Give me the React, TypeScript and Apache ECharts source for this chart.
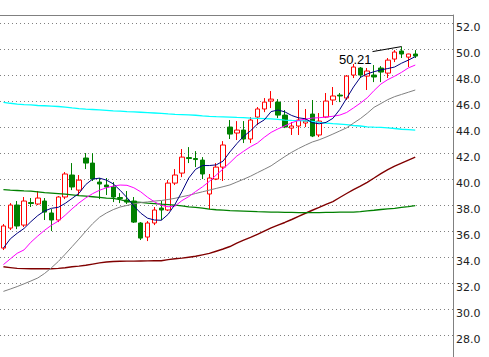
import React, { useEffect, useRef } from "react";
import * as echarts from "echarts";

const SLOT_COUNT = 66;
const categories: string[] = Array.from({ length: SLOT_COUNT }, (_, i) => String(i + 1));

const OPEN = [
  34.71, 36.25, 38.02, 36.48, 38.21, 38.10, 38.33, 37.41, 36.87, 38.64,
  40.33, 39.17, 41.64, 41.25, 39.79, 39.56, 39.41, 38.60, 38.41, 38.33,
  36.64, 35.56, 36.64, 37.79, 37.64, 39.71, 40.48, 41.67, 41.60, 41.48,
  38.87, 40.02, 40.94, 44.02, 43.56, 43.79, 43.10, 44.79, 45.41, 46.02,
  45.94, 44.94, 43.94, 44.10, 44.33, 45.02, 43.41, 44.79, 46.10, 46.48,
  46.25, 48.02, 48.56, 47.94, 48.02, 48.56, 48.17, 49.25, 49.87, 49.40, 49.64,
];
const CLOSE = [
  36.41, 38.02, 36.41, 38.33, 38.14, 38.56, 37.48, 36.87, 38.64, 40.41,
  39.41, 39.94, 41.25, 40.02, 39.64, 39.41, 38.64, 38.52, 38.25, 36.71,
  35.48, 36.64, 37.64, 37.64, 39.71, 40.33, 41.71, 41.60, 41.52, 40.41,
  40.10, 40.94, 42.64, 43.48, 43.79, 43.10, 44.56, 45.41, 45.94, 46.17,
  44.94, 44.02, 44.10, 44.56, 44.48, 43.33, 44.48, 46.02, 46.41, 46.41,
  47.94, 48.64, 48.02, 48.33, 47.87, 48.25, 49.17, 49.79, 49.64, 49.64, 49.48,
];
const LOW = [
  34.56, 36.10, 36.17, 36.33, 37.87, 38.02, 36.87, 36.02, 36.71, 38.48,
  39.17, 38.79, 40.79, 39.87, 38.48, 38.79, 38.25, 38.17, 38.10, 36.64,
  35.33, 35.25, 36.48, 36.87, 37.56, 39.56, 40.17, 41.25, 40.94, 40.02,
  37.71, 39.94, 39.87, 43.10, 43.02, 42.79, 42.79, 44.17, 45.17, 45.48,
  44.71, 43.94, 43.41, 43.41, 44.02, 43.25, 43.25, 44.71, 45.71, 45.94,
  46.10, 47.79, 47.79, 46.87, 47.48, 47.48, 47.79, 49.02, 49.33, 48.64, 49.33,
];
const HIGH = [
  36.56, 38.17, 38.33, 38.64, 38.56, 39.10, 38.56, 37.71, 38.71, 40.56,
  41.25, 40.33, 42.02, 42.02, 40.10, 40.10, 39.79, 38.94, 39.10, 38.64,
  36.71, 36.79, 37.87, 38.33, 39.94, 40.79, 42.33, 42.48, 42.17, 41.71,
  40.41, 41.25, 42.94, 44.56, 44.48, 44.48, 44.79, 45.56, 46.25, 46.79,
  46.17, 45.33, 44.41, 46.10, 45.41, 46.10, 45.10, 46.64, 47.10, 46.64,
  48.02, 48.87, 48.64, 48.56, 48.79, 48.71, 49.33, 49.94, 50.21, 49.66, 49.94,
];

const MA_NAVY = [
  34.71, 35.42, 35.85, 36.22, 36.74, 37.21, 37.57, 37.77, 37.85, 38.15,
  38.53, 38.92, 39.60, 40.02, 40.09, 39.94, 39.65, 39.16, 38.59, 37.95,
  37.40, 37.01, 36.87, 36.85, 37.31, 38.08, 39.04, 40.10, 40.77, 41.06,
  41.06, 41.11, 41.40, 42.11, 42.74, 43.31, 43.73, 44.25, 44.57, 45.21,
  45.33, 45.19, 44.91, 44.73, 44.66, 44.36, 44.27, 44.38, 44.69, 45.37,
  46.23, 47.10, 47.84, 48.11, 48.28, 48.42, 48.52, 48.64, 48.93, 49.17, 49.44,
];
const MA_MAGENTA = [
  33.44, 33.88, 34.31, 34.57, 35.16, 35.64, 36.08, 36.47, 36.79, 37.24,
  37.73, 38.18, 38.57, 38.90, 39.16, 39.35, 39.48, 39.56, 39.54, 39.35,
  39.04, 38.62, 38.27, 38.00, 37.89, 37.94, 38.36, 38.67, 39.06, 39.42,
  39.84, 40.33, 40.80, 41.28, 41.79, 42.16, 42.51, 42.79, 43.23, 43.61,
  43.88, 44.11, 44.35, 44.54, 44.63, 44.71, 44.74, 44.79, 44.85, 44.94,
  45.14, 45.49, 45.86, 46.27, 46.83, 47.33, 47.67, 47.93, 48.23, 48.57, 48.79,
];
const MA_GRAY = [
  31.38, 31.56, 31.75, 31.96, 32.18, 32.41, 32.76, 33.20, 33.68, 34.24,
  34.82, 35.40, 36.01, 36.59, 37.08, 37.41, 37.67, 37.87, 37.99, 38.11,
  38.21, 38.26, 38.33, 38.37, 38.45, 38.54, 38.66, 38.77, 38.91, 39.04,
  39.17, 39.30, 39.43, 39.57, 39.79, 40.01, 40.24, 40.51, 40.77, 41.04,
  41.40, 41.75, 42.08, 42.37, 42.63, 42.87, 43.04, 43.25, 43.48, 43.72,
  43.96, 44.32, 44.67, 45.08, 45.54, 45.83, 46.13, 46.36, 46.53, 46.70, 46.87,
];
const MA_GREEN = [
  39.21, 39.17, 39.14, 39.11, 39.09, 39.04, 38.97, 38.94, 38.90, 38.86,
  38.81, 38.74, 38.70, 38.66, 38.61, 38.56, 38.53, 38.44, 38.31, 38.26,
  38.22, 38.17, 38.13, 38.09, 38.06, 38.02, 37.96, 37.88, 37.84, 37.78,
  37.70, 37.66, 37.63, 37.59, 37.57, 37.55, 37.53, 37.51, 37.50, 37.48,
  37.47, 37.46, 37.45, 37.44, 37.44, 37.44, 37.44, 37.45, 37.46, 37.47,
  37.47, 37.48, 37.52, 37.57, 37.62, 37.68, 37.73, 37.77, 37.84, 37.90, 37.97,
];
const MA_DARKRED = [
  33.27, 33.21, 33.15, 33.13, 33.12, 33.12, 33.12, 33.12, 33.15, 33.20,
  33.27, 33.32, 33.39, 33.48, 33.57, 33.64, 33.68, 33.70, 33.71, 33.71,
  33.72, 33.73, 33.74, 33.74, 33.82, 33.89, 33.94, 34.01, 34.08, 34.19,
  34.30, 34.47, 34.64, 34.83, 35.09, 35.32, 35.54, 35.77, 36.02, 36.27,
  36.48, 36.68, 36.91, 37.15, 37.39, 37.62, 37.84, 38.07, 38.29, 38.60,
  38.91, 39.21, 39.48, 39.77, 40.10, 40.44, 40.75, 41.02, 41.25, 41.48, 41.71,
];
const MA_CYAN = [
  45.92, 45.85, 45.79, 45.74, 45.72, 45.68, 45.66, 45.63, 45.60, 45.55,
  45.49, 45.44, 45.40, 45.37, 45.34, 45.31, 45.27, 45.24, 45.21, 45.19,
  45.16, 45.13, 45.10, 45.07, 45.03, 45.00, 44.98, 44.96, 44.93, 44.88,
  44.84, 44.82, 44.81, 44.79, 44.76, 44.74, 44.71, 44.69, 44.67, 44.65,
  44.61, 44.56, 44.53, 44.51, 44.49, 44.46, 44.38, 44.33, 44.28, 44.24,
  44.20, 44.14, 44.10, 44.04, 44.01, 43.99, 43.96, 43.91, 43.85, 43.82, 43.79,
];

const Y_MIN = 26;
const Y_MAX = 52.64;
const Y_STEP = 2;
const HIGH_INDEX = 58;
const HIGH_LABEL = "50.21";

export default function App() {
  const ref = useRef<HTMLDivElement>(null);

  useEffect(() => {
    document.body.style.margin = "0";
    document.body.style.overflow = "hidden";
    const chart = echarts.init(ref.current!, null, { renderer: "svg" });

    const candleData = OPEN.map((o, i) => [o, CLOSE[i], LOW[i], HIGH[i]]);
    const line = (name: string, data: number[], color: string, width: number) => ({
      type: "line",
      name,
      data,
      symbol: "none",
      showSymbol: false,
      silent: true,
      lineStyle: { color, width },
      itemStyle: { color },
      z: 3,
    });

    chart.setOption({
      animation: false,
      backgroundColor: "#ffffff",
      grid: { left: 0, top: 15, width: 453, height: (Y_MAX - Y_MIN) * 13, containLabel: false },
      xAxis: {
        type: "category",
        data: categories,
        position: "top",
        boundaryGap: true,
        axisLine: { show: true, lineStyle: { color: "#808080", width: 1 } },
        axisTick: { show: false },
        axisLabel: { show: false },
        splitLine: { show: false },
      },
      yAxis: {
        type: "value",
        position: "right",
        min: Y_MIN,
        max: Y_MAX,
        interval: Y_STEP,
        axisLine: { show: true, lineStyle: { color: "#808080", width: 1 } },
        axisTick: { show: false },
        splitLine: { show: true, lineStyle: { color: "#808080", type: [1, 3], width: 1 } },
        axisLabel: {
          show: true,
          margin: 3,
          showMaxLabel: false,
          showMinLabel: false,
          formatter: (v: number) => "{t|" + v.toFixed(1) + "}",
          rich: {
            t: {
              color: "#222222",
              fontFamily: "DejaVu Sans",
              fontSize: 11,
              padding: [8, 0, 0, 0],
            },
          },
        },
      },
      series: [
        {
          type: "candlestick",
          data: candleData,
          barWidth: 5,
          silent: true,
          itemStyle: {
            color: "#ffffff",
            color0: "#008000",
            borderColor: "#ff0000",
            borderColor0: "#008000",
            borderWidth: 1,
          },
          z: 2,
        },
        line("cyan", MA_CYAN, "#00ffff", 1.3),
        line("darkred", MA_DARKRED, "#800000", 1.4),
        line("green", MA_GREEN, "#008000", 1.3),
        line("gray", MA_GRAY, "#808080", 1),
        line("magenta", MA_MAGENTA, "#ff00ff", 1),
        line("navy", MA_NAVY, "#000080", 1),
      ],
    });

    const p = chart.convertToPixel({ xAxisIndex: 0, yAxisIndex: 0 }, [HIGH_INDEX, HIGH[HIGH_INDEX]]) as number[];
    chart.setOption({
      graphic: [
        {
          type: "polyline",
          shape: { points: [[p[0] - 29, p[1] + 5], [p[0], p[1]]] },
          style: { stroke: "#000000", lineWidth: 1, fill: "none" },
          z: 10,
        },
        {
          type: "text",
          x: p[0] - 30,
          y: p[1] + 12.5,
          style: {
            text: HIGH_LABEL,
            fill: "#000000",
            fontSize: 13,
            fontFamily: "Liberation Sans",
            align: "right",
            verticalAlign: "middle",
            textAlign: "right",
            textVerticalAlign: "middle",
          },
          z: 10,
        },
      ],
    });

    return () => chart.dispose();
  }, []);

  return <div ref={ref} style={{ position: "fixed", left: 0, top: 0, width: 489, height: 400 }} />;
}
